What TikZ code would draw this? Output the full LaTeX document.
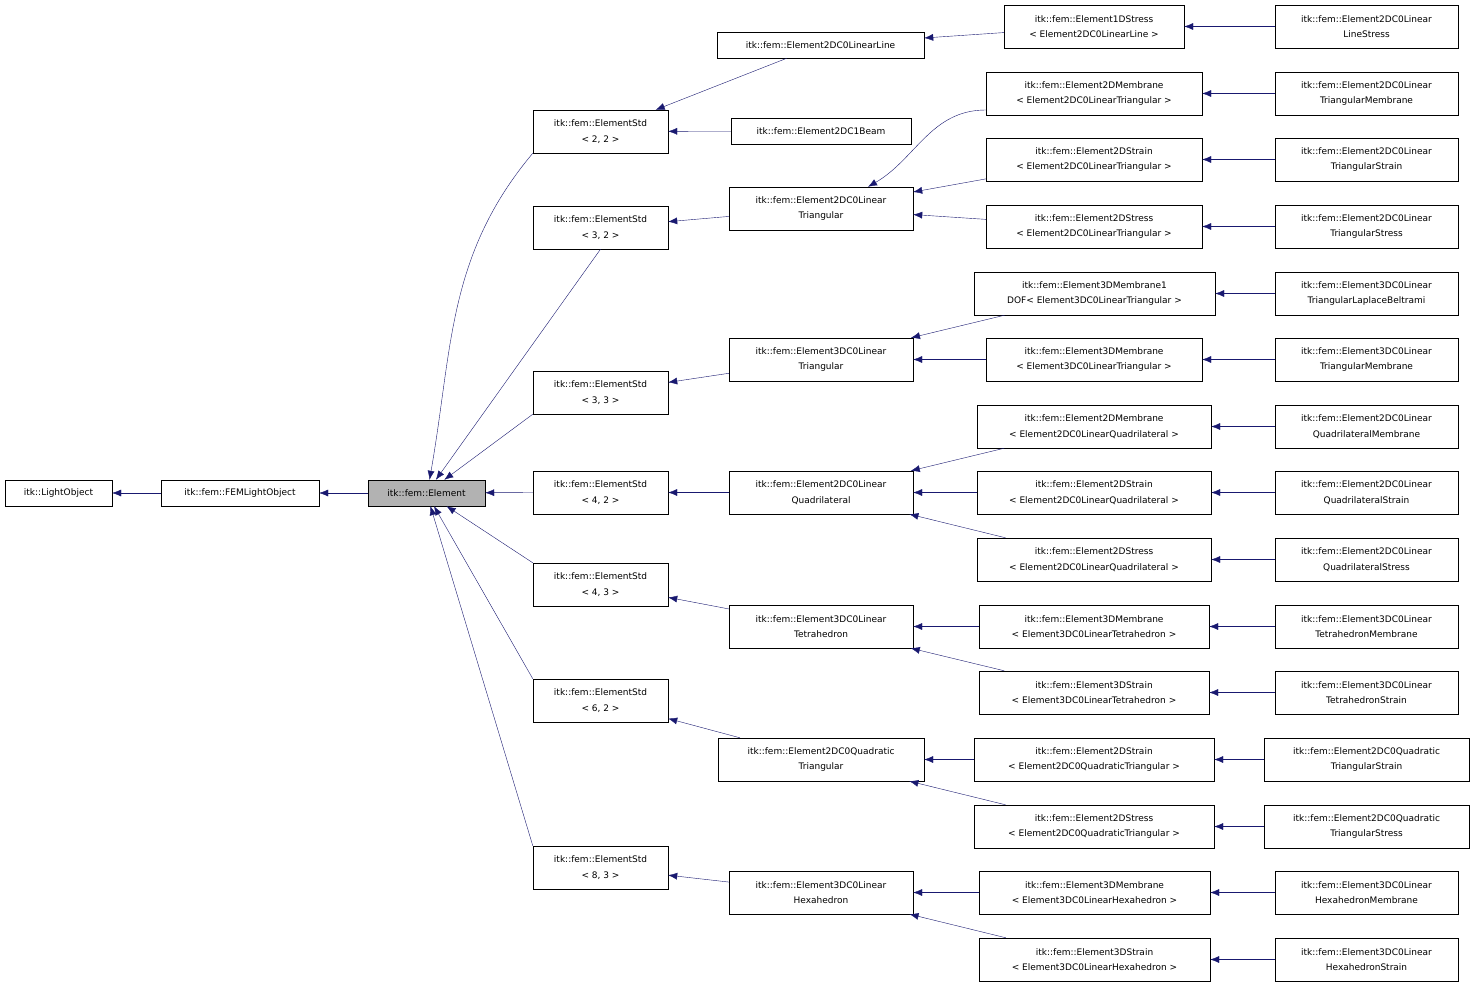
\documentclass[tikz,border=0pt]{standalone}
\usepackage{fontspec}
\setmainfont{DejaVu Sans}
\usetikzlibrary{positioning,arrows.meta}
\definecolor{edgeblue}{HTML}{191970}
\tikzset{
  cls/.style={draw=black, fill=white, align=center, inner sep=1pt,
    font=\fontsize{9}{15.5}\selectfont},
  root/.style={cls, fill=black!30},
  edge/.style={draw=edgeblue, {Latex[length=9pt,width=7pt]}-}
}
% box from its pixel corners
\newcommand\cbox[7][cls]{\node[#1, minimum width={(#5-#3)*1pt}, minimum height={(#6-#4)*1pt}]
  (#2) at ({(#3+#5)/2},{(#4+#6)/2}) {#7};}
\begin{document}
\begin{tikzpicture}[x=1pt,y=-1pt]
\useasboundingbox (0,0) rectangle (1475,987);
% left part
\cbox{lightobj}{5}{480}{112}{506}{itk::LightObject}
\cbox{femlight}{161}{480}{319}{506}{itk::fem::FEMLightObject}
\cbox[root]{elem}{368}{480}{485}{506}{itk::fem::Element}
% element std
\cbox{s22}{533}{110}{668}{153}{itk::fem::ElementStd\\< 2, 2 >}
\cbox{s32}{533}{206}{668}{249}{itk::fem::ElementStd\\< 3, 2 >}
\cbox{s33}{533}{371}{668}{414}{itk::fem::ElementStd\\< 3, 3 >}
\cbox{s42}{533}{471}{668}{514}{itk::fem::ElementStd\\< 4, 2 >}
\cbox{s43}{533}{563}{668}{606}{itk::fem::ElementStd\\< 4, 3 >}
\cbox{s62}{533}{679}{668}{722}{itk::fem::ElementStd\\< 6, 2 >}
\cbox{s83}{533}{846}{668}{889}{itk::fem::ElementStd\\< 8, 3 >}
% concrete elements
\cbox{line2d}{717}{32}{924}{58}{itk::fem::Element2DC0LinearLine}
\cbox{beam}{731}{118}{911}{144}{itk::fem::Element2DC1Beam}
\cbox{tri2d}{729}{187}{913}{230}{itk::fem::Element2DC0Linear\\Triangular}
\cbox{tri3d}{729}{338}{913}{381}{itk::fem::Element3DC0Linear\\Triangular}
\cbox{quad2d}{729}{471}{913}{514}{itk::fem::Element2DC0Linear\\Quadrilateral}
\cbox{tet3d}{729}{605}{913}{648}{itk::fem::Element3DC0Linear\\Tetrahedron}
\cbox{qtri2d}{718}{738}{924}{781}{itk::fem::Element2DC0Quadratic\\Triangular}
\cbox{hex3d}{729}{871}{913}{914}{itk::fem::Element3DC0Linear\\Hexahedron}
% templates
\cbox{stress1d}{1004}{5}{1184}{48}{itk::fem::Element1DStress\\< Element2DC0LinearLine >}
\cbox{membtri}{986}{72}{1202}{115}{itk::fem::Element2DMembrane\\< Element2DC0LinearTriangular >}
\cbox{straintri}{986}{138}{1202}{181}{itk::fem::Element2DStrain\\< Element2DC0LinearTriangular >}
\cbox{stresstri}{986}{205}{1202}{248}{itk::fem::Element2DStress\\< Element2DC0LinearTriangular >}
\cbox{membdof}{974}{272}{1215}{315}{itk::fem::Element3DMembrane1\\DOF< Element3DC0LinearTriangular >}
\cbox{membtrid}{986}{338}{1202}{381}{itk::fem::Element3DMembrane\\< Element3DC0LinearTriangular >}
\cbox{membquad}{977}{405}{1211}{448}{itk::fem::Element2DMembrane\\< Element2DC0LinearQuadrilateral >}
\cbox{strainquad}{977}{471}{1211}{514}{itk::fem::Element2DStrain\\< Element2DC0LinearQuadrilateral >}
\cbox{stressquad}{977}{538}{1211}{581}{itk::fem::Element2DStress\\< Element2DC0LinearQuadrilateral >}
\cbox{membtet}{979}{605}{1209}{648}{itk::fem::Element3DMembrane\\< Element3DC0LinearTetrahedron >}
\cbox{straintet}{979}{671}{1209}{714}{itk::fem::Element3DStrain\\< Element3DC0LinearTetrahedron >}
\cbox{strainqt}{974}{738}{1214}{781}{itk::fem::Element2DStrain\\< Element2DC0QuadraticTriangular >}
\cbox{stressqt}{974}{805}{1214}{848}{itk::fem::Element2DStress\\< Element2DC0QuadraticTriangular >}
\cbox{membhex}{979}{871}{1210}{914}{itk::fem::Element3DMembrane\\< Element3DC0LinearHexahedron >}
\cbox{strainhex}{979}{938}{1210}{981}{itk::fem::Element3DStrain\\< Element3DC0LinearHexahedron >}
% leaves
\cbox{lfline}{1275}{5}{1458}{48}{itk::fem::Element2DC0Linear\\LineStress}
\cbox{lfmembtri}{1275}{72}{1458}{115}{itk::fem::Element2DC0Linear\\TriangularMembrane}
\cbox{lfstraintri}{1275}{138}{1458}{181}{itk::fem::Element2DC0Linear\\TriangularStrain}
\cbox{lfstresstri}{1275}{205}{1458}{248}{itk::fem::Element2DC0Linear\\TriangularStress}
\cbox{lfbeltrami}{1275}{272}{1458}{315}{itk::fem::Element3DC0Linear\\TriangularLaplaceBeltrami}
\cbox{lfmembtrid}{1275}{338}{1458}{381}{itk::fem::Element3DC0Linear\\TriangularMembrane}
\cbox{lfmembquad}{1275}{405}{1458}{448}{itk::fem::Element2DC0Linear\\QuadrilateralMembrane}
\cbox{lfstrainquad}{1275}{471}{1458}{514}{itk::fem::Element2DC0Linear\\QuadrilateralStrain}
\cbox{lfstressquad}{1275}{538}{1458}{581}{itk::fem::Element2DC0Linear\\QuadrilateralStress}
\cbox{lfmembtet}{1275}{605}{1458}{648}{itk::fem::Element3DC0Linear\\TetrahedronMembrane}
\cbox{lfstraintet}{1275}{671}{1458}{714}{itk::fem::Element3DC0Linear\\TetrahedronStrain}
\cbox{lfstrainqt}{1264}{738}{1469}{781}{itk::fem::Element2DC0Quadratic\\TriangularStrain}
\cbox{lfstressqt}{1264}{805}{1469}{848}{itk::fem::Element2DC0Quadratic\\TriangularStress}
\cbox{lfmembhex}{1275}{871}{1458}{914}{itk::fem::Element3DC0Linear\\HexahedronMembrane}
\cbox{lfstrainhex}{1275}{938}{1458}{981}{itk::fem::Element3DC0Linear\\HexahedronStrain}
% inheritance edges
\draw[edge] (lightobj) -- (femlight);
\draw[edge] (femlight) -- (elem);
\draw[edge] (elem.north) ++(3,0) to[out=80,in=-130] (s22.south west);
\foreach \s/\a in {s32/south, s33/south west, s42/west, s43/north west, s62/north west, s83/north west}
  \draw[edge] (elem) -- (\s.\a);
\foreach \p/\c in {s22/line2d, s22/beam, s32/tri2d, s33/tri3d, s42/quad2d, s43/tet3d, s62/qtri2d, s83/hex3d,
  line2d/stress1d, tri2d/straintri, tri2d/stresstri, tri3d/membdof, tri3d/membtrid,
  quad2d/membquad, quad2d/strainquad, quad2d/stressquad, tet3d/membtet, tet3d/straintet,
  qtri2d/strainqt, qtri2d/stressqt, hex3d/membhex, hex3d/strainhex,
  stress1d/lfline, membtri/lfmembtri, straintri/lfstraintri, stresstri/lfstresstri,
  membdof/lfbeltrami, membtrid/lfmembtrid, membquad/lfmembquad, strainquad/lfstrainquad,
  stressquad/lfstressquad, membtet/lfmembtet, straintet/lfstraintet, strainqt/lfstrainqt,
  stressqt/lfstressqt, membhex/lfmembhex, strainhex/lfstrainhex}
  \draw[edge] (\p) -- (\c);
\draw[edge] (tri2d.north) ++(47,0) to[out=30,in=180] (membtri.west |- 0,110);
\end{tikzpicture}
\end{document}
